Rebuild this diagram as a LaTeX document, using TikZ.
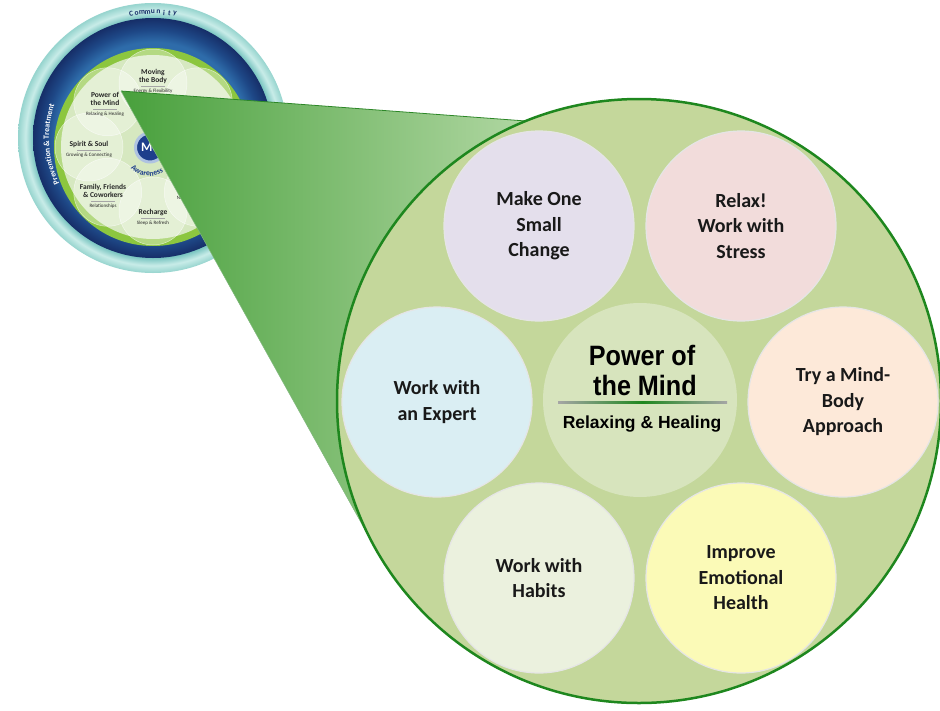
\documentclass[tikz,border=0pt]{standalone}
\usepackage{fontspec}
\setmainfont{Carlito}
\newfontfamily\headfont[FakeStretch=0.9]{Liberation Sans}
\newfontfamily\healfont{Liberation Sans}
\usetikzlibrary{shadows, positioning, decorations.text}

% Colours
\definecolor{bigfill}{RGB}{196,215,155}
\definecolor{bigline}{RGB}{30,135,30}
\definecolor{mindfill}{RGB}{215,228,189}
\definecolor{lavender}{RGB}{228,223,236}
\definecolor{rose}{RGB}{242,220,219}
\definecolor{skyblue}{RGB}{218,238,243}
\definecolor{peach}{RGB}{253,233,217}
\definecolor{sage}{RGB}{235,241,222}
\definecolor{lemon}{RGB}{251,250,183}
\definecolor{wedgedark}{RGB}{72,160,60}
\definecolor{wedgelite}{RGB}{205,230,190}
\definecolor{wedgeedge}{RGB}{45,135,40}
\definecolor{tealdark}{RGB}{120,196,192}
\definecolor{teallite}{RGB}{200,236,232}
\definecolor{tealmid}{RGB}{150,212,206}
\definecolor{ringdark}{RGB}{22,46,104}
\definecolor{ringmid}{RGB}{30,72,135}
\definecolor{ringlite}{RGB}{46,108,170}
\definecolor{limegreen}{RGB}{140,198,63}
\definecolor{innerlight}{RGB}{214,232,192}
\definecolor{meblue}{RGB}{30,62,140}
\definecolor{mehalo}{RGB}{175,195,225}

% the edge of a shaded circle sits at 25bp
\pgfdeclareradialshading{tealring}{\pgfpointorigin}{color(0bp)=(tealdark); color(22.2bp)=(tealdark); color(23.6bp)=(teallite); color(25bp)=(tealmid); color(50bp)=(tealmid)}
\pgfdeclareradialshading{bluering}{\pgfpointorigin}{color(0bp)=(ringlite); color(20bp)=(ringlite); color(22.5bp)=(ringmid); color(25bp)=(ringdark); color(50bp)=(ringdark)}

\newcommand{\petalrule}{{\color{black!35}\rule[1pt]{24pt}{0.3pt}}}
\newcommand{\petalsub}[1]{{\mdseries\fontsize{5}{5.5}\selectfont #1}}

\begin{document}
\begin{tikzpicture}[x=1pt, y=-1pt,
    idea/.style={circle, minimum size=190pt, inner sep=0pt, draw=black!10, line width=1.2pt,
        align=center, text=black!90, font=\bfseries\fontsize{20}{25.5}\selectfont},
    petal/.style={circle, minimum size=68pt, inner sep=0pt, fill=white, fill opacity=0.35,
        draw=white, draw opacity=0.6, line width=0.5pt},
    petaltxt/.style={align=center, inner sep=0pt, text=black!85, font=\bfseries\fontsize{7.5}{8}\selectfont},
    ringtxt/.style={inner sep=0pt, font=\bfseries\fontsize{7.5}{7.5}\selectfont}]

    \useasboundingbox (0,0) rectangle (940,710);

    % Wheel rings
    \coordinate (wheelc) at (153,138);
    \coordinate (petalc) at (153,147);
    \shade[shading=tealring] (wheelc) circle[radius=135pt];
    \shade[shading=bluering] (wheelc) circle[radius=120pt];
    \fill[limegreen] (petalc) circle[radius=99pt];
    \fill[innerlight] (petalc) circle[radius=92pt];

    % Petals
    \foreach \a [count=\i] in {270,225,180,135,90,45,0,315}
        \node[petal] (petal\i) at ([shift={(\a:64)}]petalc) {};

    % Petal labels
    \node[petaltxt] (tbody) at (153,81) {Moving\\the Body\\[-3pt]\petalrule\\[-3pt]\petalsub{Energy \& Flexibility}};
    \node[petaltxt] (tmind) at (105,104) {Power of\\the Mind\\[-3pt]\petalrule\\[-3pt]\petalsub{Relaxing \& Healing}};
    \node[petaltxt] (tspirit) at (89,149) {Spirit \& Soul\\[-3pt]\petalrule\\[-3pt]\petalsub{Growing \& Connecting}};
    \node[petaltxt] (tfamily) at (103,196) {Family, Friends\\\& Coworkers\\[-3pt]\petalrule\\[-3pt]\petalsub{Relationships}};
    \node[petaltxt] (trecharge) at (153,217) {Recharge\\[-3pt]\petalrule\\[-3pt]\petalsub{Sleep \& Refresh}};
    \node[petaltxt] (tfood) at (198,198) {\petalsub{Nourishing \& Fueling}};

    % Me and curved ring texts
    \node[circle, minimum size=29pt, inner sep=0pt, fill=meblue, draw=mehalo, line width=3pt,
        text=white, font=\bfseries\fontsize{13}{13}\selectfont] (me) at (150,147.5) {Me};
    \path[decorate, decoration={text along path, text align=left,
        text={|\bfseries\fontsize{7.8}{7.8}\selectfont\color{meblue}|Awareness}}]
        ([shift={(133:28.5)}]me.center) arc[start angle=133, end angle=10, radius=28.5];
    \foreach \c [count=\i] in {C,o,m,m,u,n,i,t,y}
        \node[ringtxt, text=ringdark, rotate={-(257.5+2.5*\i)-90}] (com\i) at ([shift={({257.5+2.5*\i}:126)}]wheelc) {\c};
    \path[decorate, decoration={text along path, text align=center,
        text={|\bfseries\fontsize{8}{8}\selectfont\color{white}|Prevention {\&} Treatment}}]
        ([shift={(150:104)}]wheelc) arc[start angle=150, end angle=203, radius=104];

    % Zoom wedge
    \coordinate (zoomtip) at (121,91);
    \coordinate (bigc) at (639,401);
    \shade[left color=wedgedark, right color=wedgelite] (zoomtip) -- ([shift={(112:302pt)}]bigc)
        -- (bigc) -- ([shift={(209:302pt)}]bigc) -- cycle;
    \draw[wedgeedge, line width=0.8pt] (zoomtip) -- ([shift={(112:302pt)}]bigc);
    \draw[wedgeedge!60, line width=0.5pt] (zoomtip) -- ([shift={(209:302pt)}]bigc);

    % Big circle
    \node[circle, minimum size=604pt, inner sep=0pt, fill=bigfill, draw=bigline, line width=2.5pt] (big) at (bigc) {};

    % Centre: Power of the Mind
    \node[circle, minimum size=194pt, inner sep=0pt, fill=mindfill] (mind) at (640,400) {};
    \node[anchor=base, inner sep=0pt, font=\headfont\bfseries\fontsize{28}{28}\selectfont] (mindtop) at (642,365) {Power of};
    \node[anchor=base, inner sep=0pt, font=\headfont\bfseries\fontsize{28}{28}\selectfont] (mindmid) at (645,395) {the Mind};
    \shade[left color=gray!70, right color=gray!70, middle color=bigline] (558,401) rectangle (727,403.5);
    \node[anchor=base, inner sep=0pt, font=\healfont\bfseries\fontsize{17.5}{17.5}\selectfont] (mindsub) at (642,428) {Relaxing \& Healing};

    % Six ideas
    \node[idea, fill=lavender] (change) at (539,226) {Make One\\Small\\Change};
    \node[idea, fill=rose] (relax) at (741,226) {Relax!\\Work with\\Stress};
    \node[idea, fill=skyblue] (expert) at (437,402) {Work with\\an Expert};
    \node[idea, fill=peach] (mindbody) at (843,402) {Try a Mind-\\Body\\Approach};
    \node[idea, fill=sage] (habits) at (539,578) {Work with\\Habits};
    \node[idea, fill=lemon] (emotion) at (741,578) {Improve\\Emotional\\Health};
\end{tikzpicture}
\end{document}
